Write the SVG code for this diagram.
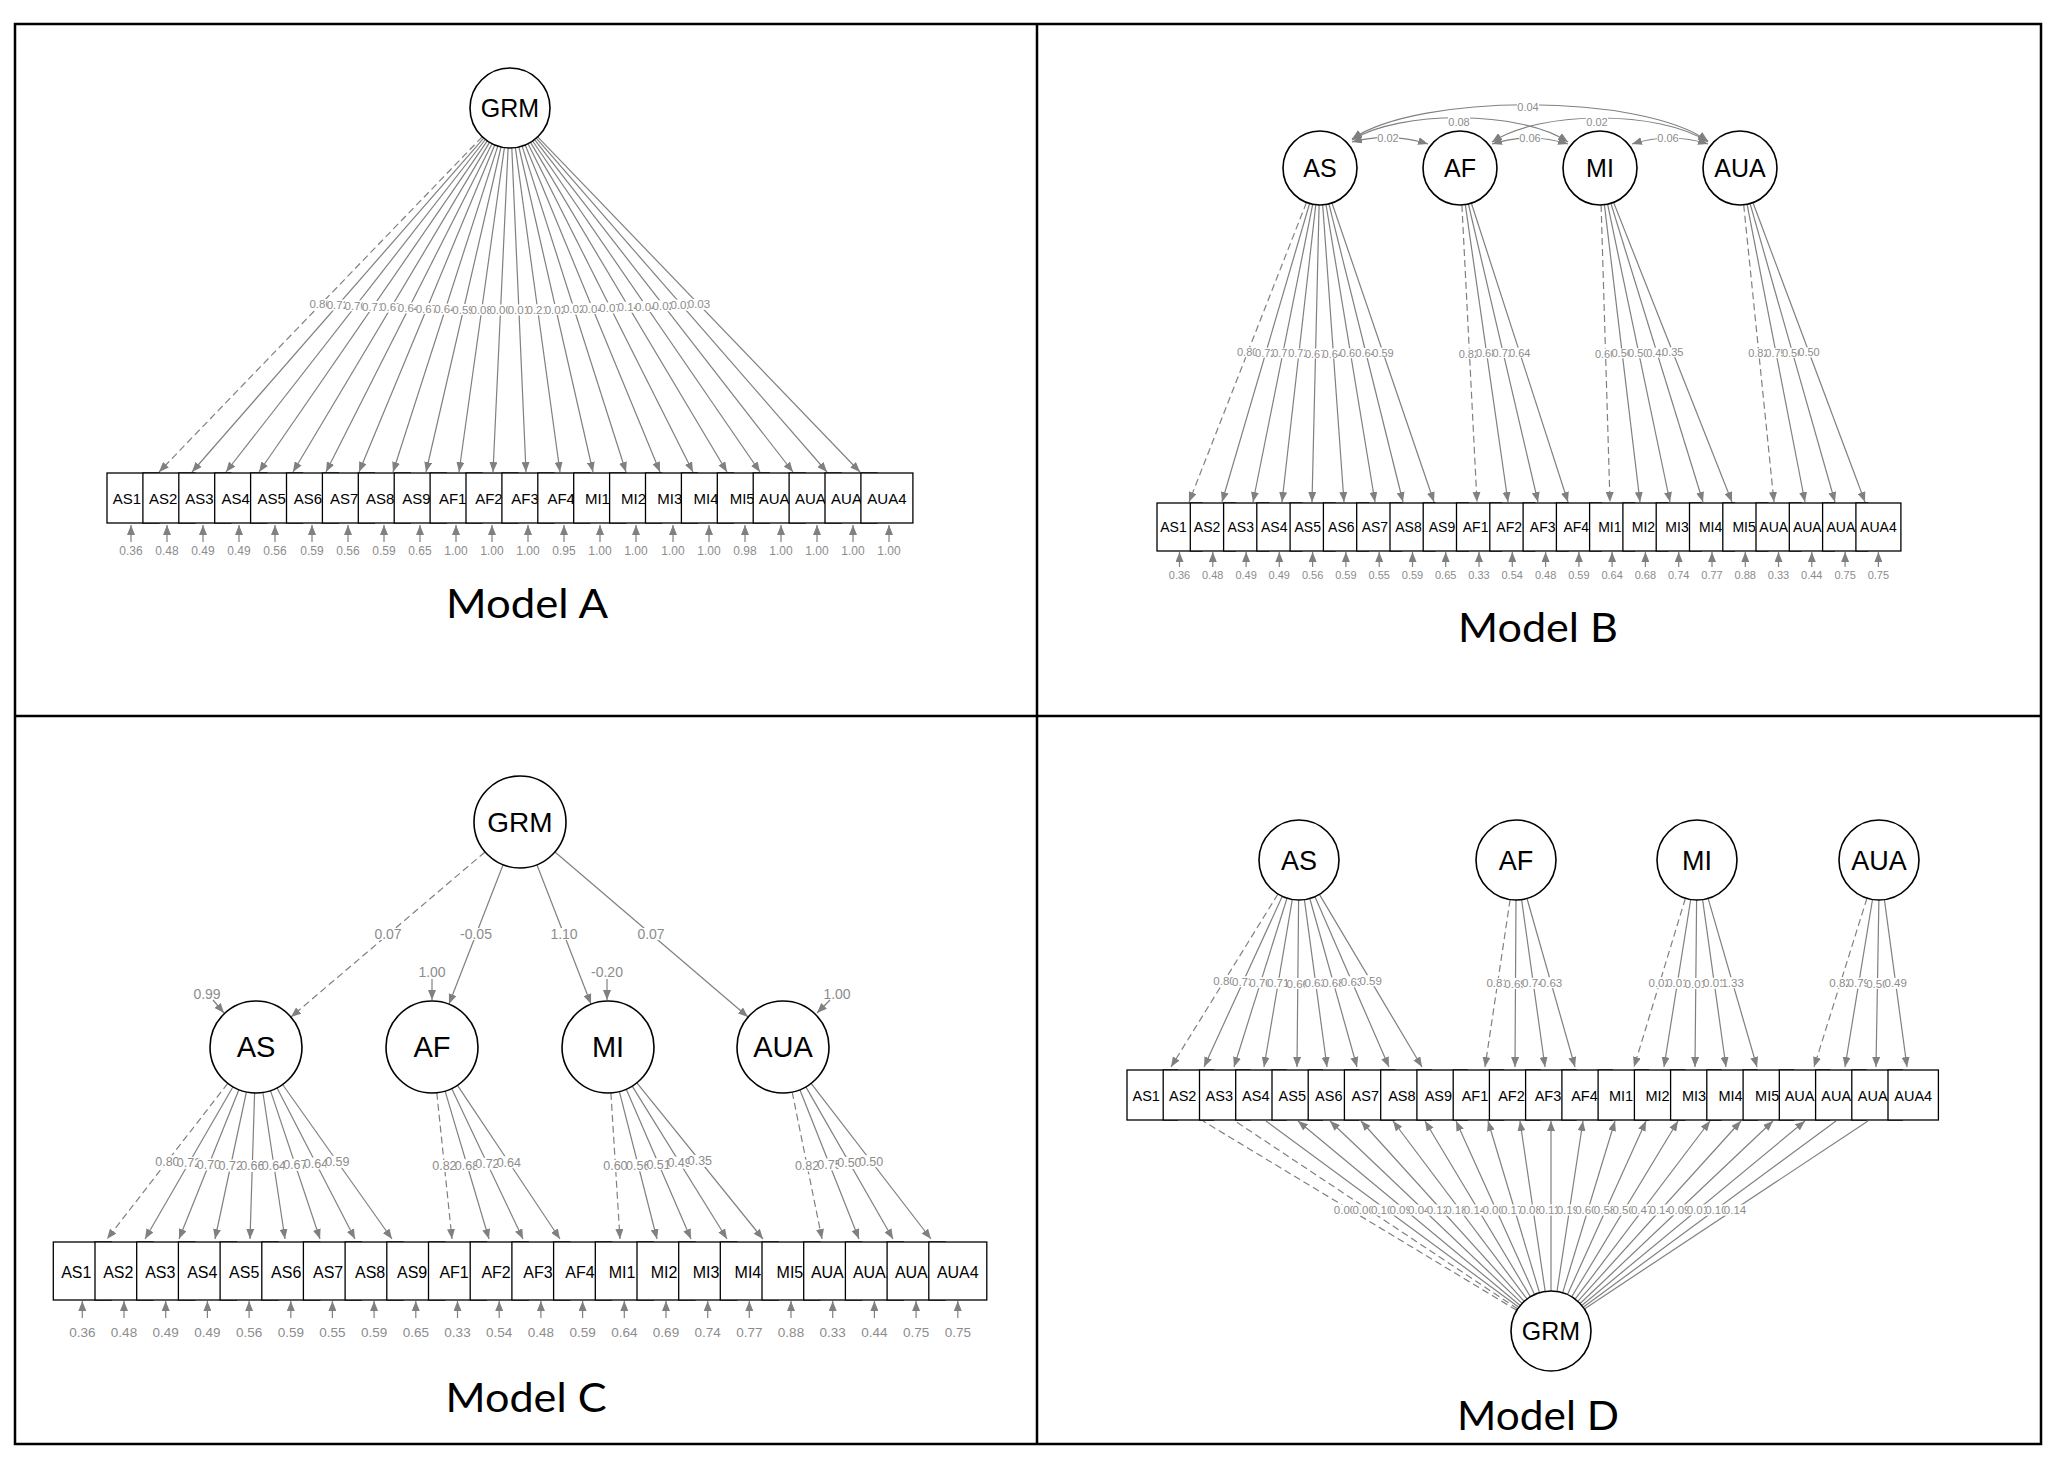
<svg xmlns="http://www.w3.org/2000/svg" width="2057" height="1460" viewBox="0 0 2057 1460">
<defs>
<marker id="ah" viewBox="0 0 10 8" refX="10" refY="4" markerWidth="10" markerHeight="8" markerUnits="userSpaceOnUse" orient="auto"><path d="M0,0 L10,4 L0,8 z" fill="#808080"/></marker>
<marker id="ah2" viewBox="0 0 10 8" refX="10" refY="4" markerWidth="10" markerHeight="8" markerUnits="userSpaceOnUse" orient="auto-start-reverse"><path d="M0,0 L10,4 L0,8 z" fill="#808080"/></marker>
<style>
.ln{stroke:#808080;stroke-width:1.2;fill:none}
.a{marker-end:url(#ah)}
.d{stroke-dasharray:7 4}
.cv{marker-start:url(#ah2);marker-end:url(#ah2)}
.lat{fill:#fff;stroke:#000;stroke-width:1.6}
.box{fill:#fff;stroke:#000;stroke-width:1.3}
.t{font-family:"Liberation Sans",Arial,sans-serif;fill:#000;text-anchor:middle}
.bA{font-size:15px}.bB{font-size:14px}.bC{font-size:16px}.bD{font-size:14.5px}
.el{font-family:"Liberation Sans",Arial,sans-serif;fill:#8c8c8c;text-anchor:middle;font-size:11.5px}
.elC{font-size:12.5px}
.elB{font-size:11px}
.bg{fill:#fff}
.title{font-family:Lato,"Open Sans",sans-serif;font-size:40px;text-anchor:middle;fill:#000}
.frame{stroke:#000;stroke-width:2.5;fill:none}
</style>
</defs>
<rect width="2057" height="1460" fill="#fff"/>
<g id="frame">
<rect class="frame" x="15" y="24" width="2026" height="1420"/>
<line class="frame" x1="1037" y1="24" x2="1037" y2="1444"/>
<line class="frame" x1="15" y1="716" x2="2041" y2="716"/>
</g>
<g id="connectors">
<g id="A-edges">
<path class="ln a d" d="M482.2,136.8 L159,472"/>
<path class="ln a" d="M483.7,138.1 L192,472"/>
<path class="ln a" d="M485.4,139.5 L226,472"/>
<path class="ln a" d="M487.3,140.9 L259,472"/>
<path class="ln a" d="M489.5,142.4 L293,472"/>
<path class="ln a" d="M492,143.7 L326,472"/>
<path class="ln a" d="M494.7,145 L359,472"/>
<path class="ln a" d="M497.8,146.1 L393,472"/>
<path class="ln a" d="M501,147 L426,472"/>
<path class="ln a" d="M504.4,147.6 L459,472"/>
<path class="ln a" d="M508.1,148 L493,472"/>
<path class="ln a" d="M511.8,148 L526,472"/>
<path class="ln a" d="M515.4,147.6 L560,472"/>
<path class="ln a" d="M518.9,147 L593,472"/>
<path class="ln a" d="M522.1,146.1 L626,472"/>
<path class="ln a" d="M525.2,145 L660,472"/>
<path class="ln a" d="M528,143.7 L693,472"/>
<path class="ln a" d="M530.5,142.4 L727,472"/>
<path class="ln a" d="M532.6,141 L760,472"/>
<path class="ln a" d="M534.6,139.6 L793,472"/>
<path class="ln a" d="M536.3,138.2 L827,472"/>
<path class="ln a" d="M537.7,136.8 L860,472"/>
<path class="ln a" d="M131,542 V525"/><path class="ln a" d="M167,542 V525"/><path class="ln a" d="M203,542 V525"/><path class="ln a" d="M239,542 V525"/><path class="ln a" d="M275,542 V525"/><path class="ln a" d="M312,542 V525"/><path class="ln a" d="M348,542 V525"/><path class="ln a" d="M384,542 V525"/><path class="ln a" d="M420,542 V525"/><path class="ln a" d="M456,542 V525"/><path class="ln a" d="M492,542 V525"/><path class="ln a" d="M528,542 V525"/><path class="ln a" d="M564,542 V525"/><path class="ln a" d="M600,542 V525"/><path class="ln a" d="M636,542 V525"/><path class="ln a" d="M673,542 V525"/><path class="ln a" d="M709,542 V525"/><path class="ln a" d="M745,542 V525"/><path class="ln a" d="M781,542 V525"/><path class="ln a" d="M817,542 V525"/><path class="ln a" d="M853,542 V525"/><path class="ln a" d="M889,542 V525"/>
</g>
<g id="A-edge-labels">
<rect class="bg" x="310.1" y="298.9" width="21" height="11"/><text class="el" x="320.6" y="308.4">0.80</text>
<rect class="bg" x="327.4" y="299.6" width="21" height="11"/><text class="el" x="337.9" y="309.1">0.72</text>
<rect class="bg" x="345.2" y="300.3" width="21" height="11"/><text class="el" x="355.7" y="309.8">0.70</text>
<rect class="bg" x="362.7" y="301" width="21" height="11"/><text class="el" x="373.2" y="310.5">0.71</text>
<rect class="bg" x="380.8" y="301.7" width="21" height="11"/><text class="el" x="391.3" y="311.2">0.67</text>
<rect class="bg" x="398.5" y="302.4" width="21" height="11"/><text class="el" x="409" y="311.9">0.64</text>
<rect class="bg" x="416.4" y="303" width="21" height="11"/><text class="el" x="426.9" y="312.5">0.67</text>
<rect class="bg" x="434.9" y="303.6" width="21" height="11"/><text class="el" x="445.4" y="313.1">0.64</text>
<rect class="bg" x="453" y="304" width="21" height="11"/><text class="el" x="463.5" y="313.5">0.59</text>
<rect class="bg" x="471.2" y="304.3" width="21" height="11"/><text class="el" x="481.7" y="313.8">0.08</text>
<rect class="bg" x="490.1" y="304.5" width="21" height="11"/><text class="el" x="500.6" y="314">0.00</text>
<rect class="bg" x="508.4" y="304.5" width="21" height="11"/><text class="el" x="518.9" y="314">0.01</text>
<rect class="bg" x="527.2" y="304.3" width="21" height="11"/><text class="el" x="537.7" y="313.8">0.21</text>
<rect class="bg" x="545.4" y="304" width="21" height="11"/><text class="el" x="555.9" y="313.5">0.02</text>
<rect class="bg" x="563.6" y="303.6" width="21" height="11"/><text class="el" x="574.1" y="313.1">0.02</text>
<rect class="bg" x="582.1" y="303" width="21" height="11"/><text class="el" x="592.6" y="312.5">0.04</text>
<rect class="bg" x="600" y="302.4" width="21" height="11"/><text class="el" x="610.5" y="311.9">0.07</text>
<rect class="bg" x="618.3" y="301.7" width="21" height="11"/><text class="el" x="628.8" y="311.2">0.14</text>
<rect class="bg" x="635.8" y="301" width="21" height="11"/><text class="el" x="646.3" y="310.5">0.04</text>
<rect class="bg" x="653.3" y="300.3" width="21" height="11"/><text class="el" x="663.8" y="309.8">0.02</text>
<rect class="bg" x="671.2" y="299.6" width="21" height="11"/><text class="el" x="681.7" y="309.1">0.02</text>
<rect class="bg" x="688.4" y="298.9" width="21" height="11"/><text class="el" x="698.9" y="308.4">0.03</text>
<text class="el" style="font-size:12px" y="555"><tspan x="131">0.36</tspan><tspan x="167">0.48</tspan><tspan x="203">0.49</tspan><tspan x="239">0.49</tspan><tspan x="275">0.56</tspan><tspan x="312">0.59</tspan><tspan x="348">0.56</tspan><tspan x="384">0.59</tspan><tspan x="420">0.65</tspan><tspan x="456">1.00</tspan><tspan x="492">1.00</tspan><tspan x="528">1.00</tspan><tspan x="564">0.95</tspan><tspan x="600">1.00</tspan><tspan x="636">1.00</tspan><tspan x="673">1.00</tspan><tspan x="709">1.00</tspan><tspan x="745">0.98</tspan><tspan x="781">1.00</tspan><tspan x="817">1.00</tspan><tspan x="853">1.00</tspan><tspan x="889">1.00</tspan></text>
</g>
<g id="B-edges">
<path class="ln cv" d="M1352,142 Q1390,132 1428,144"/>
<path class="ln cv" d="M1492,144 Q1530,132 1568,144"/>
<path class="ln cv" d="M1632,144 Q1670,132 1708,144"/>
<path class="ln cv" d="M1352,140 C1400,110 1520,110 1568,142"/>
<path class="ln cv" d="M1492,142 C1540,110 1660,110 1708,142"/>
<path class="ln cv" d="M1352,139 C1420,93 1640,93 1708,141"/>
<path class="ln a d" d="M1306.5,202.4 L1189,502"/>
<path class="ln a" d="M1309.6,203.5 L1222,502"/>
<path class="ln a" d="M1312.7,204.3 L1253,502"/>
<path class="ln a" d="M1315.8,204.8 L1282,502"/>
<path class="ln a" d="M1319.1,205 L1312,502"/>
<path class="ln a" d="M1322.7,204.9 L1344,502"/>
<path class="ln a" d="M1326,204.5 L1375,502"/>
<path class="ln a" d="M1328.9,203.9 L1403,502"/>
<path class="ln a" d="M1332,203 L1434,502"/>
<path class="ln a d" d="M1461.9,205 L1477,502"/>
<path class="ln a" d="M1465.3,204.6 L1508,502"/>
<path class="ln a" d="M1468.4,204 L1538,502"/>
<path class="ln a" d="M1471.4,203.2 L1568,502"/>
<path class="ln a d" d="M1601.1,205 L1610,502"/>
<path class="ln a" d="M1604.4,204.7 L1640,502"/>
<path class="ln a" d="M1607.6,204.2 L1670,502"/>
<path class="ln a" d="M1610.9,203.4 L1703,502"/>
<path class="ln a" d="M1613.6,202.4 L1732,502"/>
<path class="ln a d" d="M1743.7,204.8 L1774,502"/>
<path class="ln a" d="M1747.1,204.3 L1805,502"/>
<path class="ln a" d="M1750.1,203.6 L1835,502"/>
<path class="ln a" d="M1753,202.7 L1865,502"/>
<path class="ln a" d="M1179.5,567 V552"/><path class="ln a" d="M1212.8,567 V552"/><path class="ln a" d="M1246.1,567 V552"/><path class="ln a" d="M1279.3,567 V552"/><path class="ln a" d="M1312.6,567 V552"/><path class="ln a" d="M1345.9,567 V552"/><path class="ln a" d="M1379.2,567 V552"/><path class="ln a" d="M1412.5,567 V552"/><path class="ln a" d="M1445.7,567 V552"/><path class="ln a" d="M1479,567 V552"/><path class="ln a" d="M1512.3,567 V552"/><path class="ln a" d="M1545.6,567 V552"/><path class="ln a" d="M1578.9,567 V552"/><path class="ln a" d="M1612.1,567 V552"/><path class="ln a" d="M1645.4,567 V552"/><path class="ln a" d="M1678.7,567 V552"/><path class="ln a" d="M1712,567 V552"/><path class="ln a" d="M1745.3,567 V552"/><path class="ln a" d="M1778.5,567 V552"/><path class="ln a" d="M1811.8,567 V552"/><path class="ln a" d="M1845.1,567 V552"/><path class="ln a" d="M1878.4,567 V552"/>
</g>
<g id="B-edge-labels">
<rect class="bg" x="1377" y="133" width="22" height="10"/><text class="el elB" x="1388" y="142">0.02</text>
<rect class="bg" x="1519" y="133" width="22" height="10"/><text class="el elB" x="1530" y="142">0.06</text>
<rect class="bg" x="1657" y="133" width="22" height="10"/><text class="el elB" x="1668" y="142">0.06</text>
<rect class="bg" x="1448" y="117" width="22" height="10"/><text class="el elB" x="1459" y="126">0.08</text>
<rect class="bg" x="1586" y="117" width="22" height="10"/><text class="el elB" x="1597" y="126">0.02</text>
<rect class="bg" x="1517" y="102" width="22" height="10"/><text class="el elB" x="1528" y="111">0.04</text>
<rect class="bg" x="1237.7" y="347.2" width="20" height="10"/><text class="el elB" x="1247.7" y="356.2">0.80</text>
<rect class="bg" x="1255.8" y="347.7" width="20" height="10"/><text class="el elB" x="1265.8" y="356.7">0.72</text>
<rect class="bg" x="1272.9" y="348.2" width="20" height="10"/><text class="el elB" x="1282.9" y="357.2">0.71</text>
<rect class="bg" x="1288.9" y="348.4" width="20" height="10"/><text class="el elB" x="1298.9" y="357.4">0.72</text>
<rect class="bg" x="1305.6" y="348.5" width="20" height="10"/><text class="el elB" x="1315.6" y="357.5">0.67</text>
<rect class="bg" x="1323.3" y="348.5" width="20" height="10"/><text class="el elB" x="1333.3" y="357.5">0.64</text>
<rect class="bg" x="1340.5" y="348.3" width="20" height="10"/><text class="el elB" x="1350.5" y="357.3">0.67</text>
<rect class="bg" x="1356" y="348" width="20" height="10"/><text class="el elB" x="1366" y="357">0.64</text>
<rect class="bg" x="1373" y="347.5" width="20" height="10"/><text class="el elB" x="1383" y="356.5">0.59</text>
<rect class="bg" x="1459.4" y="348.5" width="20" height="10"/><text class="el elB" x="1469.4" y="357.5">0.82</text>
<rect class="bg" x="1476.6" y="348.3" width="20" height="10"/><text class="el elB" x="1486.6" y="357.3">0.68</text>
<rect class="bg" x="1493.2" y="348" width="20" height="10"/><text class="el elB" x="1503.2" y="357">0.72</text>
<rect class="bg" x="1509.7" y="347.6" width="20" height="10"/><text class="el elB" x="1519.7" y="356.6">0.64</text>
<rect class="bg" x="1595.6" y="348.5" width="20" height="10"/><text class="el elB" x="1605.6" y="357.5">0.60</text>
<rect class="bg" x="1612.2" y="348.4" width="20" height="10"/><text class="el elB" x="1622.2" y="357.4">0.56</text>
<rect class="bg" x="1628.8" y="348.1" width="20" height="10"/><text class="el elB" x="1638.8" y="357.1">0.50</text>
<rect class="bg" x="1646.9" y="347.7" width="20" height="10"/><text class="el elB" x="1656.9" y="356.7">0.48</text>
<rect class="bg" x="1662.8" y="347.2" width="20" height="10"/><text class="el elB" x="1672.8" y="356.2">0.35</text>
<rect class="bg" x="1748.9" y="348.4" width="20" height="10"/><text class="el elB" x="1758.9" y="357.4">0.82</text>
<rect class="bg" x="1766" y="348.1" width="20" height="10"/><text class="el elB" x="1776" y="357.1">0.75</text>
<rect class="bg" x="1782.6" y="347.8" width="20" height="10"/><text class="el elB" x="1792.6" y="356.8">0.50</text>
<rect class="bg" x="1799" y="347.4" width="20" height="10"/><text class="el elB" x="1809" y="356.4">0.50</text>
<text class="el elB" y="579"><tspan x="1179.5">0.36</tspan><tspan x="1212.8">0.48</tspan><tspan x="1246.1">0.49</tspan><tspan x="1279.3">0.49</tspan><tspan x="1312.6">0.56</tspan><tspan x="1345.9">0.59</tspan><tspan x="1379.2">0.55</tspan><tspan x="1412.5">0.59</tspan><tspan x="1445.7">0.65</tspan><tspan x="1479">0.33</tspan><tspan x="1512.3">0.54</tspan><tspan x="1545.6">0.48</tspan><tspan x="1578.9">0.59</tspan><tspan x="1612.1">0.64</tspan><tspan x="1645.4">0.68</tspan><tspan x="1678.7">0.74</tspan><tspan x="1712">0.77</tspan><tspan x="1745.3">0.88</tspan><tspan x="1778.5">0.33</tspan><tspan x="1811.8">0.44</tspan><tspan x="1845.1">0.75</tspan><tspan x="1878.4">0.75</tspan></text>
</g>
<g id="C-edges">
<path class="ln a d" d="M485,852 L291,1017"/>
<path class="ln a" d="M503,865 L449,1004"/>
<path class="ln a" d="M537,865 L591,1004"/>
<path class="ln a" d="M555,852 L748,1017"/>
<path class="ln a" d="M213,1000 L224,1013"/>
<path class="ln a" d="M432,979 V1000"/>
<path class="ln a" d="M607,979 V1000"/>
<path class="ln a" d="M830,1000 L817,1013"/>
<path class="ln a d" d="M227.8,1083.3 L107,1239"/>
<path class="ln a" d="M233,1086.8 L145,1239"/>
<path class="ln a" d="M238.9,1089.7 L179,1239"/>
<path class="ln a" d="M246.4,1092 L215,1239"/>
<path class="ln a" d="M254.6,1093 L250,1239"/>
<path class="ln a" d="M262.9,1092.5 L285,1239"/>
<path class="ln a" d="M270.5,1090.6 L320,1239"/>
<path class="ln a" d="M277.1,1087.9 L355,1239"/>
<path class="ln a" d="M282.6,1084.5 L392,1239"/>
<path class="ln a d" d="M436.8,1092.8 L452,1239"/>
<path class="ln a" d="M445.1,1091.1 L489,1239"/>
<path class="ln a" d="M451.7,1088.6 L523,1239"/>
<path class="ln a" d="M457.5,1085.3 L560,1239"/>
<path class="ln a d" d="M610.9,1092.9 L620,1239"/>
<path class="ln a" d="M619.4,1091.6 L657,1239"/>
<path class="ln a" d="M626.3,1089.2 L691,1239"/>
<path class="ln a" d="M632.2,1086.1 L727,1239"/>
<path class="ln a" d="M636.9,1082.8 L763,1239"/>
<path class="ln a d" d="M792.2,1092.1 L822,1239"/>
<path class="ln a" d="M799.9,1089.8 L859,1239"/>
<path class="ln a" d="M805.9,1086.9 L893,1239"/>
<path class="ln a" d="M811.1,1083.4 L931,1239"/>
<path class="ln a" d="M82.3,1318 V1301"/><path class="ln a" d="M124,1318 V1301"/><path class="ln a" d="M165.7,1318 V1301"/><path class="ln a" d="M207.4,1318 V1301"/><path class="ln a" d="M249.1,1318 V1301"/><path class="ln a" d="M290.8,1318 V1301"/><path class="ln a" d="M332.4,1318 V1301"/><path class="ln a" d="M374.1,1318 V1301"/><path class="ln a" d="M415.8,1318 V1301"/><path class="ln a" d="M457.5,1318 V1301"/><path class="ln a" d="M499.2,1318 V1301"/><path class="ln a" d="M540.9,1318 V1301"/><path class="ln a" d="M582.6,1318 V1301"/><path class="ln a" d="M624.3,1318 V1301"/><path class="ln a" d="M666,1318 V1301"/><path class="ln a" d="M707.7,1318 V1301"/><path class="ln a" d="M749.3,1318 V1301"/><path class="ln a" d="M791,1318 V1301"/><path class="ln a" d="M832.7,1318 V1301"/><path class="ln a" d="M874.4,1318 V1301"/><path class="ln a" d="M916.1,1318 V1301"/><path class="ln a" d="M957.8,1318 V1301"/>
</g>
<g id="C-edge-labels">
<rect class="bg" x="375" y="928" width="26" height="12"/><text class="el" style="font-size:14px" x="388" y="939">0.07</text>
<rect class="bg" x="461" y="928" width="30" height="12"/><text class="el" style="font-size:14px" x="476" y="939">-0.05</text>
<rect class="bg" x="551" y="928" width="26" height="12"/><text class="el" style="font-size:14px" x="564" y="939">1.10</text>
<rect class="bg" x="638" y="928" width="26" height="12"/><text class="el" style="font-size:14px" x="651" y="939">0.07</text>
<text class="el" style="font-size:14px" x="207" y="999">0.99</text>
<text class="el" style="font-size:14px" x="432" y="977">1.00</text>
<text class="el" style="font-size:14px" x="607" y="977">-0.20</text>
<text class="el" style="font-size:14px" x="837" y="999">1.00</text>
<rect class="bg" x="156.4" y="1155.2" width="22" height="12"/><text class="el elC" x="167.4" y="1165.6">0.80</text>
<rect class="bg" x="178" y="1156.9" width="22" height="12"/><text class="el elC" x="189" y="1167.3">0.72</text>
<rect class="bg" x="197.9" y="1158.4" width="22" height="12"/><text class="el elC" x="208.9" y="1168.8">0.70</text>
<rect class="bg" x="219.7" y="1159.5" width="22" height="12"/><text class="el elC" x="230.7" y="1169.9">0.72</text>
<rect class="bg" x="241.3" y="1160" width="22" height="12"/><text class="el elC" x="252.3" y="1170.4">0.66</text>
<rect class="bg" x="262.9" y="1159.8" width="22" height="12"/><text class="el elC" x="273.9" y="1170.2">0.64</text>
<rect class="bg" x="284.3" y="1158.8" width="22" height="12"/><text class="el elC" x="295.3" y="1169.2">0.67</text>
<rect class="bg" x="305" y="1157.5" width="22" height="12"/><text class="el elC" x="316" y="1167.9">0.64</text>
<rect class="bg" x="326.3" y="1155.8" width="22" height="12"/><text class="el elC" x="337.3" y="1166.2">0.59</text>
<rect class="bg" x="433.4" y="1159.9" width="22" height="12"/><text class="el elC" x="444.4" y="1170.3">0.82</text>
<rect class="bg" x="456" y="1159.1" width="22" height="12"/><text class="el elC" x="467" y="1169.5">0.68</text>
<rect class="bg" x="476.4" y="1157.8" width="22" height="12"/><text class="el elC" x="487.4" y="1168.2">0.72</text>
<rect class="bg" x="497.8" y="1156.2" width="22" height="12"/><text class="el elC" x="508.8" y="1166.6">0.64</text>
<rect class="bg" x="604.4" y="1160" width="22" height="12"/><text class="el elC" x="615.4" y="1170.4">0.60</text>
<rect class="bg" x="627.2" y="1159.3" width="22" height="12"/><text class="el elC" x="638.2" y="1169.7">0.56</text>
<rect class="bg" x="647.6" y="1158.1" width="22" height="12"/><text class="el elC" x="658.6" y="1168.5">0.51</text>
<rect class="bg" x="668.6" y="1156.6" width="22" height="12"/><text class="el elC" x="679.6" y="1167">0.49</text>
<rect class="bg" x="688.9" y="1154.9" width="22" height="12"/><text class="el elC" x="699.9" y="1165.3">0.35</text>
<rect class="bg" x="796.1" y="1159.6" width="22" height="12"/><text class="el elC" x="807.1" y="1170">0.82</text>
<rect class="bg" x="818.5" y="1158.4" width="22" height="12"/><text class="el elC" x="829.5" y="1168.8">0.75</text>
<rect class="bg" x="838.4" y="1157" width="22" height="12"/><text class="el elC" x="849.4" y="1167.4">0.50</text>
<rect class="bg" x="860.1" y="1155.2" width="22" height="12"/><text class="el elC" x="871.1" y="1165.6">0.50</text>
<text class="el" style="font-size:13.5px" y="1337"><tspan x="82.3">0.36</tspan><tspan x="124">0.48</tspan><tspan x="165.7">0.49</tspan><tspan x="207.4">0.49</tspan><tspan x="249.1">0.56</tspan><tspan x="290.8">0.59</tspan><tspan x="332.4">0.55</tspan><tspan x="374.1">0.59</tspan><tspan x="415.8">0.65</tspan><tspan x="457.5">0.33</tspan><tspan x="499.2">0.54</tspan><tspan x="540.9">0.48</tspan><tspan x="582.6">0.59</tspan><tspan x="624.3">0.64</tspan><tspan x="666">0.69</tspan><tspan x="707.7">0.74</tspan><tspan x="749.3">0.77</tspan><tspan x="791">0.88</tspan><tspan x="832.7">0.33</tspan><tspan x="874.4">0.44</tspan><tspan x="916.1">0.75</tspan><tspan x="957.8">0.75</tspan></text>
</g>
<g id="D-edges">
<path class="ln a d" d="M1278,894 L1171,1067"/>
<path class="ln a" d="M1282.3,896.3 L1204,1067"/>
<path class="ln a" d="M1287,898.2 L1234,1067"/>
<path class="ln a" d="M1292.3,899.4 L1264,1067"/>
<path class="ln a" d="M1298.6,900 L1297,1067"/>
<path class="ln a" d="M1304.4,899.6 L1327,1067"/>
<path class="ln a" d="M1309.8,898.5 L1357,1067"/>
<path class="ln a" d="M1315,896.7 L1389,1067"/>
<path class="ln a" d="M1319.4,894.4 L1422,1067"/>
<path class="ln a d" d="M1510.1,899.6 L1485,1067"/>
<path class="ln a" d="M1516,900 L1515,1067"/>
<path class="ln a" d="M1521.6,899.6 L1545,1067"/>
<path class="ln a" d="M1527,898.5 L1575,1067"/>
<path class="ln a d" d="M1685.4,898.3 L1634,1067"/>
<path class="ln a" d="M1690.7,899.5 L1664,1067"/>
<path class="ln a" d="M1696.6,900 L1695,1067"/>
<path class="ln a" d="M1702.6,899.6 L1726,1067"/>
<path class="ln a" d="M1708.1,898.4 L1757,1067"/>
<path class="ln a d" d="M1867,898.2 L1814,1067"/>
<path class="ln a" d="M1872.5,899.5 L1845,1067"/>
<path class="ln a" d="M1878.9,900 L1876,1067"/>
<path class="ln a" d="M1884.4,899.6 L1907,1067"/>
<path class="ln d" d="M1516.7,1310.3 L1203,1121"/>
<path class="ln d" d="M1517.7,1308.9 L1235,1121"/>
<path class="ln" d="M1518.8,1307.3 L1266,1121"/>
<path class="ln a" d="M1520.2,1305.5 L1298,1121"/>
<path class="ln a" d="M1522,1303.4 L1330,1121"/>
<path class="ln a" d="M1524.2,1301.3 L1361,1121"/>
<path class="ln a" d="M1527,1299 L1393,1121"/>
<path class="ln a" d="M1530.4,1296.7 L1425,1121"/>
<path class="ln a" d="M1534.5,1294.6 L1456,1121"/>
<path class="ln a" d="M1539.5,1292.7 L1488,1121"/>
<path class="ln a" d="M1545.2,1291.4 L1520,1121"/>
<path class="ln a" d="M1551,1291 L1551,1121"/>
<path class="ln a" d="M1557,1291.5 L1583,1121"/>
<path class="ln a" d="M1562.7,1292.7 L1615,1121"/>
<path class="ln a" d="M1567.5,1294.6 L1646,1121"/>
<path class="ln a" d="M1571.7,1296.8 L1678,1121"/>
<path class="ln a" d="M1575.1,1299.1 L1710,1121"/>
<path class="ln a" d="M1577.8,1301.3 L1741,1121"/>
<path class="ln a" d="M1580.1,1303.5 L1773,1121"/>
<path class="ln a" d="M1581.8,1305.5 L1805,1121"/>
<path class="ln" d="M1583.2,1307.3 L1836,1121"/>
<path class="ln" d="M1584.4,1308.9 L1868,1121"/>
</g>
<g id="D-edge-labels">
<rect class="bg" x="1214" y="975" width="21" height="11"/><text class="el" x="1224.5" y="984.5">0.80</text>
<rect class="bg" x="1232.7" y="976.2" width="21" height="11"/><text class="el" x="1243.2" y="985.7">0.73</text>
<rect class="bg" x="1250" y="977.1" width="21" height="11"/><text class="el" x="1260.5" y="986.6">0.70</text>
<rect class="bg" x="1267.7" y="977.7" width="21" height="11"/><text class="el" x="1278.2" y="987.2">0.71</text>
<rect class="bg" x="1287.3" y="978" width="21" height="11"/><text class="el" x="1297.8" y="987.5">0.66</text>
<rect class="bg" x="1305.2" y="977.8" width="21" height="11"/><text class="el" x="1315.7" y="987.3">0.63</text>
<rect class="bg" x="1322.9" y="977.3" width="21" height="11"/><text class="el" x="1333.4" y="986.8">0.68</text>
<rect class="bg" x="1341.5" y="976.3" width="21" height="11"/><text class="el" x="1352" y="985.8">0.63</text>
<rect class="bg" x="1360.2" y="975.2" width="21" height="11"/><text class="el" x="1370.7" y="984.7">0.59</text>
<rect class="bg" x="1487.1" y="977.8" width="21" height="11"/><text class="el" x="1497.6" y="987.3">0.81</text>
<rect class="bg" x="1505" y="978" width="21" height="11"/><text class="el" x="1515.5" y="987.5">0.69</text>
<rect class="bg" x="1522.8" y="977.8" width="21" height="11"/><text class="el" x="1533.3" y="987.3">0.74</text>
<rect class="bg" x="1540.5" y="977.2" width="21" height="11"/><text class="el" x="1551" y="986.7">0.63</text>
<rect class="bg" x="1649.2" y="977.1" width="21" height="11"/><text class="el" x="1659.7" y="986.6">0.02</text>
<rect class="bg" x="1666.9" y="977.7" width="21" height="11"/><text class="el" x="1677.4" y="987.2">0.01</text>
<rect class="bg" x="1685.3" y="978" width="21" height="11"/><text class="el" x="1695.8" y="987.5">0.01</text>
<rect class="bg" x="1703.8" y="977.8" width="21" height="11"/><text class="el" x="1714.3" y="987.3">0.01</text>
<rect class="bg" x="1722.1" y="977.2" width="21" height="11"/><text class="el" x="1732.6" y="986.7">1.33</text>
<rect class="bg" x="1830" y="977.1" width="21" height="11"/><text class="el" x="1840.5" y="986.6">0.82</text>
<rect class="bg" x="1848.3" y="977.7" width="21" height="11"/><text class="el" x="1858.8" y="987.2">0.79</text>
<rect class="bg" x="1866.9" y="978" width="21" height="11"/><text class="el" x="1877.4" y="987.5">0.50</text>
<rect class="bg" x="1885.2" y="977.8" width="21" height="11"/><text class="el" x="1895.7" y="987.3">0.49</text>
<rect class="bg" x="1334.5" y="1204.5" width="21" height="11"/><text class="el" x="1345" y="1214">0.00</text>
<rect class="bg" x="1353.1" y="1204.5" width="21" height="11"/><text class="el" x="1363.6" y="1214">0.00</text>
<rect class="bg" x="1371.6" y="1204.5" width="21" height="11"/><text class="el" x="1382.1" y="1214">0.10</text>
<rect class="bg" x="1390.2" y="1204.5" width="21" height="11"/><text class="el" x="1400.7" y="1214">0.09</text>
<rect class="bg" x="1408.8" y="1204.5" width="21" height="11"/><text class="el" x="1419.3" y="1214">0.04</text>
<rect class="bg" x="1427.4" y="1204.5" width="21" height="11"/><text class="el" x="1437.9" y="1214">0.12</text>
<rect class="bg" x="1445.9" y="1204.5" width="21" height="11"/><text class="el" x="1456.4" y="1214">0.18</text>
<rect class="bg" x="1464.5" y="1204.5" width="21" height="11"/><text class="el" x="1475" y="1214">0.14</text>
<rect class="bg" x="1483.1" y="1204.5" width="21" height="11"/><text class="el" x="1493.6" y="1214">0.00</text>
<rect class="bg" x="1501.6" y="1204.5" width="21" height="11"/><text class="el" x="1512.1" y="1214">0.17</text>
<rect class="bg" x="1520.2" y="1204.5" width="21" height="11"/><text class="el" x="1530.7" y="1214">0.08</text>
<rect class="bg" x="1538.8" y="1204.5" width="21" height="11"/><text class="el" x="1549.3" y="1214">0.11</text>
<rect class="bg" x="1557.4" y="1204.5" width="21" height="11"/><text class="el" x="1567.9" y="1214">0.19</text>
<rect class="bg" x="1575.9" y="1204.5" width="21" height="11"/><text class="el" x="1586.4" y="1214">0.60</text>
<rect class="bg" x="1594.5" y="1204.5" width="21" height="11"/><text class="el" x="1605" y="1214">0.58</text>
<rect class="bg" x="1613.1" y="1204.5" width="21" height="11"/><text class="el" x="1623.6" y="1214">0.50</text>
<rect class="bg" x="1631.6" y="1204.5" width="21" height="11"/><text class="el" x="1642.1" y="1214">0.47</text>
<rect class="bg" x="1650.2" y="1204.5" width="21" height="11"/><text class="el" x="1660.7" y="1214">0.14</text>
<rect class="bg" x="1668.8" y="1204.5" width="21" height="11"/><text class="el" x="1679.3" y="1214">0.09</text>
<rect class="bg" x="1687.4" y="1204.5" width="21" height="11"/><text class="el" x="1697.9" y="1214">0.01</text>
<rect class="bg" x="1705.9" y="1204.5" width="21" height="11"/><text class="el" x="1716.4" y="1214">0.10</text>
<rect class="bg" x="1724.5" y="1204.5" width="21" height="11"/><text class="el" x="1735" y="1214">0.14</text>
</g>
</g>
<g id="modelA">
<g id="A-GRM"><circle class="lat" cx="510" cy="108" r="40"/><text class="t" style="font-size:25px" x="510" y="117">GRM</text></g>
<g id="A-AS1"><rect class="box" x="107" y="473" width="52" height="50"/><text class="t bA" x="127" y="504">AS1</text></g>
<g id="A-AS2"><rect class="box" x="142.9" y="473" width="52" height="50"/><text class="t bA" x="163.2" y="504">AS2</text></g>
<g id="A-AS3"><rect class="box" x="178.8" y="473" width="52" height="50"/><text class="t bA" x="199.4" y="504">AS3</text></g>
<g id="A-AS4"><rect class="box" x="214.7" y="473" width="52" height="50"/><text class="t bA" x="235.6" y="504">AS4</text></g>
<g id="A-AS5"><rect class="box" x="250.6" y="473" width="52" height="50"/><text class="t bA" x="271.7" y="504">AS5</text></g>
<g id="A-AS6"><rect class="box" x="286.5" y="473" width="52" height="50"/><text class="t bA" x="307.9" y="504">AS6</text></g>
<g id="A-AS7"><rect class="box" x="322.4" y="473" width="52" height="50"/><text class="t bA" x="344.1" y="504">AS7</text></g>
<g id="A-AS8"><rect class="box" x="358.3" y="473" width="52" height="50"/><text class="t bA" x="380.3" y="504">AS8</text></g>
<g id="A-AS9"><rect class="box" x="394.2" y="473" width="52" height="50"/><text class="t bA" x="416.5" y="504">AS9</text></g>
<g id="A-AF1"><rect class="box" x="430.1" y="473" width="52" height="50"/><text class="t bA" x="452.7" y="504">AF1</text></g>
<g id="A-AF2"><rect class="box" x="466" y="473" width="52" height="50"/><text class="t bA" x="488.9" y="504">AF2</text></g>
<g id="A-AF3"><rect class="box" x="501.9" y="473" width="52" height="50"/><text class="t bA" x="525" y="504">AF3</text></g>
<g id="A-AF4"><rect class="box" x="537.8" y="473" width="52" height="50"/><text class="t bA" x="561.2" y="504">AF4</text></g>
<g id="A-MI1"><rect class="box" x="573.7" y="473" width="52" height="50"/><text class="t bA" x="597.4" y="504">MI1</text></g>
<g id="A-MI2"><rect class="box" x="609.6" y="473" width="52" height="50"/><text class="t bA" x="633.6" y="504">MI2</text></g>
<g id="A-MI3"><rect class="box" x="645.5" y="473" width="52" height="50"/><text class="t bA" x="669.8" y="504">MI3</text></g>
<g id="A-MI4"><rect class="box" x="681.4" y="473" width="52" height="50"/><text class="t bA" x="706" y="504">MI4</text></g>
<g id="A-MI5"><rect class="box" x="717.3" y="473" width="52" height="50"/><text class="t bA" x="742.2" y="504">MI5</text></g>
<g id="A-AUA1"><rect class="box" x="753.2" y="473" width="52" height="50"/><text class="t bA" x="778.3" y="504">AUA1</text></g>
<g id="A-AUA2"><rect class="box" x="789.1" y="473" width="52" height="50"/><text class="t bA" x="814.5" y="504">AUA2</text></g>
<g id="A-AUA3"><rect class="box" x="825" y="473" width="52" height="50"/><text class="t bA" x="850.7" y="504">AUA3</text></g>
<g id="A-AUA4"><rect class="box" x="860.9" y="473" width="52" height="50"/><text class="t bA" x="886.9" y="504">AUA4</text></g>
</g>
<g id="modelB">
<g id="B-AS"><circle class="lat" cx="1320" cy="168" r="37"/><text class="t" style="font-size:25px" x="1320" y="177">AS</text></g>
<g id="B-AF"><circle class="lat" cx="1460" cy="168" r="37"/><text class="t" style="font-size:25px" x="1460" y="177">AF</text></g>
<g id="B-MI"><circle class="lat" cx="1600" cy="168" r="37"/><text class="t" style="font-size:25px" x="1600" y="177">MI</text></g>
<g id="B-AUA"><circle class="lat" cx="1740" cy="168" r="37"/><text class="t" style="font-size:25px" x="1740" y="177">AUA</text></g>
<g id="B-AS1"><rect class="box" x="1157" y="503" width="45" height="48"/><text class="t bB" x="1173.5" y="532">AS1</text></g>
<g id="B-AS2"><rect class="box" x="1190.3" y="503" width="45" height="48"/><text class="t bB" x="1207.1" y="532">AS2</text></g>
<g id="B-AS3"><rect class="box" x="1223.6" y="503" width="45" height="48"/><text class="t bB" x="1240.7" y="532">AS3</text></g>
<g id="B-AS4"><rect class="box" x="1256.8" y="503" width="45" height="48"/><text class="t bB" x="1274.2" y="532">AS4</text></g>
<g id="B-AS5"><rect class="box" x="1290.1" y="503" width="45" height="48"/><text class="t bB" x="1307.7" y="532">AS5</text></g>
<g id="B-AS6"><rect class="box" x="1323.4" y="503" width="45" height="48"/><text class="t bB" x="1341.3" y="532">AS6</text></g>
<g id="B-AS7"><rect class="box" x="1356.7" y="503" width="45" height="48"/><text class="t bB" x="1374.9" y="532">AS7</text></g>
<g id="B-AS8"><rect class="box" x="1390" y="503" width="45" height="48"/><text class="t bB" x="1408.5" y="532">AS8</text></g>
<g id="B-AS9"><rect class="box" x="1423.2" y="503" width="45" height="48"/><text class="t bB" x="1442" y="532">AS9</text></g>
<g id="B-AF1"><rect class="box" x="1456.5" y="503" width="45" height="48"/><text class="t bB" x="1475.6" y="532">AF1</text></g>
<g id="B-AF2"><rect class="box" x="1489.8" y="503" width="45" height="48"/><text class="t bB" x="1509.2" y="532">AF2</text></g>
<g id="B-AF3"><rect class="box" x="1523.1" y="503" width="45" height="48"/><text class="t bB" x="1542.7" y="532">AF3</text></g>
<g id="B-AF4"><rect class="box" x="1556.4" y="503" width="45" height="48"/><text class="t bB" x="1576.3" y="532">AF4</text></g>
<g id="B-MI1"><rect class="box" x="1589.6" y="503" width="45" height="48"/><text class="t bB" x="1609.8" y="532">MI1</text></g>
<g id="B-MI2"><rect class="box" x="1622.9" y="503" width="45" height="48"/><text class="t bB" x="1643.4" y="532">MI2</text></g>
<g id="B-MI3"><rect class="box" x="1656.2" y="503" width="45" height="48"/><text class="t bB" x="1677" y="532">MI3</text></g>
<g id="B-MI4"><rect class="box" x="1689.5" y="503" width="45" height="48"/><text class="t bB" x="1710.6" y="532">MI4</text></g>
<g id="B-MI5"><rect class="box" x="1722.8" y="503" width="45" height="48"/><text class="t bB" x="1744.1" y="532">MI5</text></g>
<g id="B-AUA1"><rect class="box" x="1756" y="503" width="45" height="48"/><text class="t bB" x="1777.6" y="532">AUA1</text></g>
<g id="B-AUA2"><rect class="box" x="1789.3" y="503" width="45" height="48"/><text class="t bB" x="1811.2" y="532">AUA2</text></g>
<g id="B-AUA3"><rect class="box" x="1822.6" y="503" width="45" height="48"/><text class="t bB" x="1844.8" y="532">AUA3</text></g>
<g id="B-AUA4"><rect class="box" x="1855.9" y="503" width="45" height="48"/><text class="t bB" x="1878.4" y="532">AUA4</text></g>
</g>
<g id="modelC">
<g id="C-GRM"><circle class="lat" cx="520" cy="822" r="46"/><text class="t" style="font-size:28px" x="520" y="832">GRM</text></g>
<g id="C-AS"><circle class="lat" cx="256" cy="1047" r="46"/><text class="t" style="font-size:29px" x="256" y="1057">AS</text></g>
<g id="C-AF"><circle class="lat" cx="432" cy="1047" r="46"/><text class="t" style="font-size:29px" x="432" y="1057">AF</text></g>
<g id="C-MI"><circle class="lat" cx="608" cy="1047" r="46"/><text class="t" style="font-size:29px" x="608" y="1057">MI</text></g>
<g id="C-AUA"><circle class="lat" cx="783" cy="1047" r="46"/><text class="t" style="font-size:29px" x="783" y="1057">AUA</text></g>
<g id="C-AS1"><rect class="box" x="53.3" y="1242" width="58" height="58"/><text class="t bC" x="76.3" y="1278">AS1</text></g>
<g id="C-AS2"><rect class="box" x="95" y="1242" width="58" height="58"/><text class="t bC" x="118.3" y="1278">AS2</text></g>
<g id="C-AS3"><rect class="box" x="136.7" y="1242" width="58" height="58"/><text class="t bC" x="160.3" y="1278">AS3</text></g>
<g id="C-AS4"><rect class="box" x="178.4" y="1242" width="58" height="58"/><text class="t bC" x="202.3" y="1278">AS4</text></g>
<g id="C-AS5"><rect class="box" x="220.1" y="1242" width="58" height="58"/><text class="t bC" x="244.2" y="1278">AS5</text></g>
<g id="C-AS6"><rect class="box" x="261.8" y="1242" width="58" height="58"/><text class="t bC" x="286.2" y="1278">AS6</text></g>
<g id="C-AS7"><rect class="box" x="303.4" y="1242" width="58" height="58"/><text class="t bC" x="328.1" y="1278">AS7</text></g>
<g id="C-AS8"><rect class="box" x="345.1" y="1242" width="58" height="58"/><text class="t bC" x="370.1" y="1278">AS8</text></g>
<g id="C-AS9"><rect class="box" x="386.8" y="1242" width="58" height="58"/><text class="t bC" x="412.1" y="1278">AS9</text></g>
<g id="C-AF1"><rect class="box" x="428.5" y="1242" width="58" height="58"/><text class="t bC" x="454.1" y="1278">AF1</text></g>
<g id="C-AF2"><rect class="box" x="470.2" y="1242" width="58" height="58"/><text class="t bC" x="496.1" y="1278">AF2</text></g>
<g id="C-AF3"><rect class="box" x="511.9" y="1242" width="58" height="58"/><text class="t bC" x="538" y="1278">AF3</text></g>
<g id="C-AF4"><rect class="box" x="553.6" y="1242" width="58" height="58"/><text class="t bC" x="580" y="1278">AF4</text></g>
<g id="C-MI1"><rect class="box" x="595.3" y="1242" width="58" height="58"/><text class="t bC" x="622" y="1278">MI1</text></g>
<g id="C-MI2"><rect class="box" x="637" y="1242" width="58" height="58"/><text class="t bC" x="664" y="1278">MI2</text></g>
<g id="C-MI3"><rect class="box" x="678.7" y="1242" width="58" height="58"/><text class="t bC" x="706" y="1278">MI3</text></g>
<g id="C-MI4"><rect class="box" x="720.3" y="1242" width="58" height="58"/><text class="t bC" x="747.9" y="1278">MI4</text></g>
<g id="C-MI5"><rect class="box" x="762" y="1242" width="58" height="58"/><text class="t bC" x="789.9" y="1278">MI5</text></g>
<g id="C-AUA1"><rect class="box" x="803.7" y="1242" width="58" height="58"/><text class="t bC" x="831.8" y="1278">AUA1</text></g>
<g id="C-AUA2"><rect class="box" x="845.4" y="1242" width="58" height="58"/><text class="t bC" x="873.8" y="1278">AUA2</text></g>
<g id="C-AUA3"><rect class="box" x="887.1" y="1242" width="58" height="58"/><text class="t bC" x="915.8" y="1278">AUA3</text></g>
<g id="C-AUA4"><rect class="box" x="928.8" y="1242" width="58" height="58"/><text class="t bC" x="957.8" y="1278">AUA4</text></g>
</g>
<g id="modelD">
<g id="D-AS"><circle class="lat" cx="1299" cy="860" r="40"/><text class="t" style="font-size:27px" x="1299" y="869.5">AS</text></g>
<g id="D-AF"><circle class="lat" cx="1516" cy="860" r="40"/><text class="t" style="font-size:27px" x="1516" y="869.5">AF</text></g>
<g id="D-MI"><circle class="lat" cx="1697" cy="860" r="40"/><text class="t" style="font-size:27px" x="1697" y="869.5">MI</text></g>
<g id="D-AUA"><circle class="lat" cx="1879" cy="860" r="40"/><text class="t" style="font-size:27px" x="1879" y="869.5">AUA</text></g>
<g id="D-GRM"><circle class="lat" cx="1551" cy="1331" r="40"/><text class="t" style="font-size:25px" x="1551" y="1340">GRM</text></g>
<g id="D-AS1"><rect class="box" x="1127" y="1070" width="50.4" height="50"/><text class="t bD" x="1146.2" y="1101">AS1</text></g>
<g id="D-AS2"><rect class="box" x="1163.2" y="1070" width="50.4" height="50"/><text class="t bD" x="1182.7" y="1101">AS2</text></g>
<g id="D-AS3"><rect class="box" x="1199.5" y="1070" width="50.4" height="50"/><text class="t bD" x="1219.3" y="1101">AS3</text></g>
<g id="D-AS4"><rect class="box" x="1235.7" y="1070" width="50.4" height="50"/><text class="t bD" x="1255.8" y="1101">AS4</text></g>
<g id="D-AS5"><rect class="box" x="1272" y="1070" width="50.4" height="50"/><text class="t bD" x="1292.3" y="1101">AS5</text></g>
<g id="D-AS6"><rect class="box" x="1308.2" y="1070" width="50.4" height="50"/><text class="t bD" x="1328.8" y="1101">AS6</text></g>
<g id="D-AS7"><rect class="box" x="1344.4" y="1070" width="50.4" height="50"/><text class="t bD" x="1365.3" y="1101">AS7</text></g>
<g id="D-AS8"><rect class="box" x="1380.7" y="1070" width="50.4" height="50"/><text class="t bD" x="1401.9" y="1101">AS8</text></g>
<g id="D-AS9"><rect class="box" x="1416.9" y="1070" width="50.4" height="50"/><text class="t bD" x="1438.4" y="1101">AS9</text></g>
<g id="D-AF1"><rect class="box" x="1453.2" y="1070" width="50.4" height="50"/><text class="t bD" x="1475" y="1101">AF1</text></g>
<g id="D-AF2"><rect class="box" x="1489.4" y="1070" width="50.4" height="50"/><text class="t bD" x="1511.5" y="1101">AF2</text></g>
<g id="D-AF3"><rect class="box" x="1525.6" y="1070" width="50.4" height="50"/><text class="t bD" x="1548" y="1101">AF3</text></g>
<g id="D-AF4"><rect class="box" x="1561.9" y="1070" width="50.4" height="50"/><text class="t bD" x="1584.5" y="1101">AF4</text></g>
<g id="D-MI1"><rect class="box" x="1598.1" y="1070" width="50.4" height="50"/><text class="t bD" x="1621" y="1101">MI1</text></g>
<g id="D-MI2"><rect class="box" x="1634.4" y="1070" width="50.4" height="50"/><text class="t bD" x="1657.6" y="1101">MI2</text></g>
<g id="D-MI3"><rect class="box" x="1670.6" y="1070" width="50.4" height="50"/><text class="t bD" x="1694.1" y="1101">MI3</text></g>
<g id="D-MI4"><rect class="box" x="1706.8" y="1070" width="50.4" height="50"/><text class="t bD" x="1730.6" y="1101">MI4</text></g>
<g id="D-MI5"><rect class="box" x="1743.1" y="1070" width="50.4" height="50"/><text class="t bD" x="1767.2" y="1101">MI5</text></g>
<g id="D-AUA1"><rect class="box" x="1779.3" y="1070" width="50.4" height="50"/><text class="t bD" x="1803.6" y="1101">AUA1</text></g>
<g id="D-AUA2"><rect class="box" x="1815.6" y="1070" width="50.4" height="50"/><text class="t bD" x="1840.2" y="1101">AUA2</text></g>
<g id="D-AUA3"><rect class="box" x="1851.8" y="1070" width="50.4" height="50"/><text class="t bD" x="1876.7" y="1101">AUA3</text></g>
<g id="D-AUA4"><rect class="box" x="1888" y="1070" width="50.4" height="50"/><text class="t bD" x="1913.2" y="1101">AUA4</text></g>
</g>
<g id="titles">
<text class="title" x="527" y="618" textLength="162" lengthAdjust="spacingAndGlyphs">Model A</text>
<text class="title" x="1538" y="642" textLength="160" lengthAdjust="spacingAndGlyphs">Model B</text>
<text class="title" x="526" y="1412" textLength="161" lengthAdjust="spacingAndGlyphs">Model C</text>
<text class="title" x="1538" y="1430" textLength="162" lengthAdjust="spacingAndGlyphs">Model D</text>
</g>
</svg>
